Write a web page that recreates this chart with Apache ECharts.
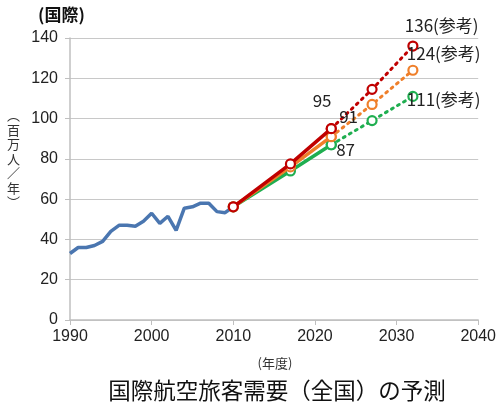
<!DOCTYPE html>
<html><head><meta charset="utf-8">
<script src="https://cdn.jsdelivr.net/npm/echarts@6/dist/echarts.min.js"></script>
<style>html,body{margin:0;padding:0;background:#fff}#c{width:499px;height:405px}</style>
</head><body><div id="c"></div>
<script>
const histYears = [1990,1991,1992,1993,1994,1995,1996,1997,1998,1999,2000,2001,2002,2003,2004,2005,2006,2007,2008,2009,2010];
const histValues = [33,36,36,37,39,44,47,47,46.5,49,53,48,51.5,44.5,55.5,56.2,58,58,53.8,53.3,56.2];
const solidYears = [2010,2017,2022];
const dotYears = [2022,2027,2032];
const highSolid = [56.2,77.5,95];
const midSolid = [56.2,76,91];
const lowSolid = [56.2,74,87];
const highDot = [95,114.5,136];
const midDot = [91,107,124];
const lowDot = [87,99,111];
const endLabels = ['136(参考)','124(参考)','111(参考)'];
const xTicks = [1990,2000,2010,2020,2030,2040];

const RED='#c00000', ORANGE='#ef7f2a', GREEN='#1fae50', BLUE='#4a76b0';
const lblFont = {fontFamily:'"Noto Sans CJK JP", sans-serif', fontSize:17, color:'#222'};

function pts(xs, ys){ return xs.map((x,i)=>[x, ys[i]]); }
function withLabel(data, idx, text, pos){
  return data.map((d,i)=> i===idx ? {value:d, label:Object.assign({show:true, formatter:text, position:pos}, lblFont)} : d);
}
function mk(name, color, data, dotted, z){
  return {type:'line', name, data, z, symbol:'circle', symbolSize:9, showAllSymbol:true,
    lineStyle:{color, width:dotted?3:3.5, type:dotted?[2,5]:'solid', cap:'round'},
    itemStyle:{color:'#fff', borderColor:color, borderWidth:2.2},
    emphasis:{disabled:true}, animation:false};
}

const chart = echarts.init(document.getElementById('c'));
chart.setOption({
  animation:false,
  grid:{left:70, right:20, top:38, bottom:85},
  xAxis:{type:'value', min:1990, max:2040, interval:10,
    axisLine:{show:true, lineStyle:{color:'#bfbfbf', width:1.5}},
    axisTick:{show:true, length:5, lineStyle:{color:'#bfbfbf'}},
    splitLine:{show:false},
    axisLabel:{color:'#222', fontSize:16, fontFamily:'"Liberation Sans", Arial, sans-serif', margin:9,
      formatter:v=> xTicks.includes(v)? String(v):''}},
  yAxis:{type:'value', min:0, max:140, interval:20,
    axisLine:{show:true, lineStyle:{color:'#bfbfbf', width:1.5}},
    axisTick:{show:true, length:5, lineStyle:{color:'#bfbfbf'}},
    splitLine:{lineStyle:{color:'#c8c8c8', width:1.2}},
    axisLabel:{color:'#222', fontSize:16, fontFamily:'"Liberation Sans", Arial, sans-serif', margin:12}},
  graphic:[
    {type:'text', x:38, y:6, style:{text:'(国際)', font:'bold 17px "Noto Sans CJK JP", sans-serif', fill:'#111'}},
    {type:'text', x:7, y:108, style:{text:'︵\n百\n万\n人\n／\n年\n︶', font:'13px "Noto Sans CJK JP", sans-serif', fill:'#333', lineHeight:14.5, textAlign:'left'}},
    {type:'text', x:275, y:357, style:{text:'(年度)', font:'13px "Noto Sans CJK JP", sans-serif', fill:'#333', textAlign:'center'}},
    {type:'text', x:277, y:379, style:{text:'国際航空旅客需要（全国）の予測', font:'22.5px "Noto Sans CJK JP", sans-serif', fill:'#111', textAlign:'center'}}
  ],
  series:[
    {type:'line', name:'実績', data:pts(histYears, histValues), symbol:'none', z:2,
      lineStyle:{color:BLUE, width:3.5}, emphasis:{disabled:true}, animation:false},
    mk('low-dot', GREEN, withLabel(pts(dotYears, lowDot), 2, endLabels[2], [-0.5,0]), true, 3),
    mk('mid-dot', ORANGE, withLabel(pts(dotYears, midDot), 2, endLabels[1], [-0.5,-20]), true, 3),
    mk('high-dot', RED, withLabel(pts(dotYears, highDot), 2, endLabels[0], [-2.5,-23.5]), true, 3),
    mk('low', GREEN, withLabel(pts(solidYears, lowSolid), 2, '87', [10.5,1.5]), false, 4),
    mk('mid', ORANGE, withLabel(pts(solidYears, midSolid), 2, '91', [13.5,-23]), false, 5),
    mk('high', RED, withLabel(pts(solidYears, highSolid), 2, '95', [-13,-30.5]), false, 6)
  ]
});
</script></body></html>
